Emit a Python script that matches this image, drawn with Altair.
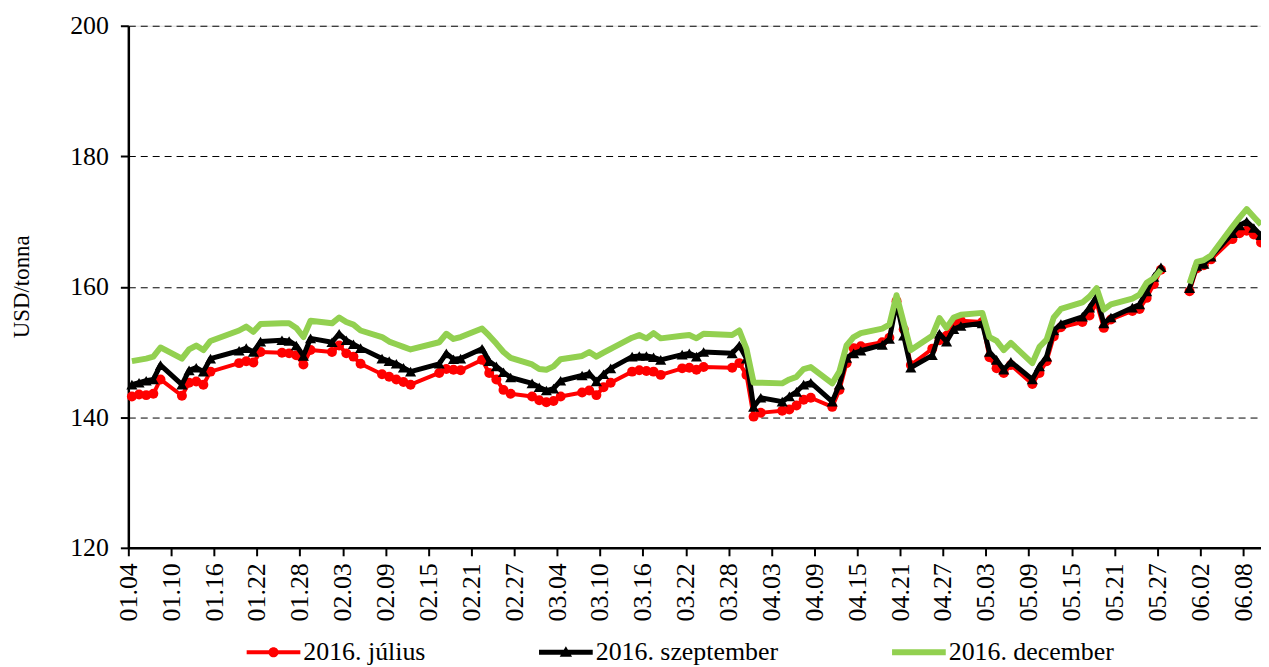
import altair as alt

# ---- data ----
dates_md = [
    "01.04","01.05","01.06","01.07","01.08","01.11","01.12","01.13","01.14","01.15","01.19","01.20","01.21","01.22","01.25","01.26","01.27","01.28","01.29",
    "02.01","02.02","02.03","02.04","02.05","02.08","02.09","02.10","02.11","02.12","02.16","02.17","02.18","02.19","02.22","02.23","02.24","02.25","02.26","02.29",
    "03.01","03.02","03.03","03.04","03.07","03.08","03.09","03.10","03.11","03.14","03.15","03.16","03.17","03.18","03.21","03.22","03.23","03.24","03.28","03.29","03.30","03.31",
    "04.01","04.04","04.05","04.06","04.07","04.08","04.11","04.12","04.13","04.14","04.15","04.18","04.19","04.20","04.21","04.22","04.25","04.26","04.27","04.28","04.29",
    "05.02","05.03","05.04","05.05","05.06","05.09","05.10","05.11","05.12","05.13","05.16","05.17","05.18","05.19","05.20","05.23","05.24","05.25","05.26","05.27","05.30","05.31",
    "06.01","06.02","06.03","06.06","06.07","06.08","06.09","06.10",
]

july = [
    143.2, 143.5, 143.4, 143.6, 145.8, 143.3, 145.3, 145.5, 145.0, 147.0, 148.3, 148.6, 148.4, 150.0, 149.9, 149.8, 149.5, 148.1, 150.3,
    150.0, 151.0, 149.8, 149.3, 148.2, 146.6, 146.2, 145.8, 145.4, 145.0, 146.8, 147.4, 147.3, 147.2, 148.8, 146.8, 145.8, 144.2, 143.6, 143.2,
    142.6, 142.3, 142.5, 143.2, 143.8, 144.1, 143.4, 144.6, 145.3, 147.0, 147.2, 147.1, 147.0, 146.5, 147.5, 147.6, 147.3, 147.7, 147.6, 148.3, 146.5, 140.1,
    140.7, 141.0, 141.2, 141.8, 142.7, 143.0, 141.6, 144.2, 148.3, 150.6, 150.9, 151.5, 152.2, 157.8, 153.5, 148.0, 150.5, 151.8, 152.5, 154.5, 154.8,
    154.6, 149.2, 147.5, 146.8, 148.0, 145.1, 146.8, 148.6, 152.4, 153.8, 154.6, 155.6, 157.5, 153.7, 155.0, 156.3, 156.6, 158.3, 160.4, 162.6, None, 159.3,
    162.8, 163.3, 164.2, 167.3, 168.2, 168.6, 168.0, 166.8,
]

september = [
    145.0, 145.3, 145.6, 145.8, 148.0, 145.0, 147.2, 147.6, 147.0, 149.0, 150.2, 150.6, 150.0, 151.6, 151.8, 151.7, 151.0, 149.4, 152.1,
    151.5, 152.8, 151.8, 151.2, 150.6, 149.0, 148.6, 148.2, 147.6, 147.0, 148.2, 149.8, 148.9, 149.0, 150.5, 148.6, 147.8, 146.9, 146.1, 145.2,
    144.6, 144.1, 144.4, 145.6, 146.4, 146.7, 145.5, 146.6, 147.5, 149.3, 149.4, 149.4, 149.2, 148.8, 149.6, 149.8, 149.3, 150.0, 149.8, 151.0, 149.0, 141.6,
    143.0, 142.4, 143.2, 143.9, 145.0, 145.3, 142.4, 145.0, 149.1, 149.8, 150.2, 151.1, 152.0, 157.6, 152.5, 147.6, 149.5, 152.8, 151.6, 153.5, 154.0,
    154.4, 150.0, 148.8, 147.3, 148.5, 145.8, 147.8, 149.3, 153.3, 154.3, 155.4, 156.8, 158.5, 154.4, 155.3, 156.8, 157.3, 159.3, 161.5, 163.0, None, 159.8,
    163.2, 163.5, 164.6, 168.2, 169.4, 170.0, 169.0, 167.9,
]

december = [
    148.6, 148.8, 149.0, 149.3, 150.7, 149.0, 150.4, 151.0, 150.3, 151.7, 153.3, 153.9, 153.1, 154.3, 154.4, 154.4, 153.7, 152.3, 154.8,
    154.4, 155.3, 154.6, 154.2, 153.3, 152.3, 151.6, 151.2, 150.8, 150.4, 151.5, 152.8, 152.0, 152.3, 153.6, 152.5, 151.3, 150.0, 149.1, 148.1,
    147.4, 147.3, 147.8, 148.9, 149.4, 150.0, 149.3, 149.9, 150.5, 152.2, 152.6, 152.1, 152.9, 152.1, 152.5, 152.6, 152.1, 152.8, 152.6, 153.3, 150.5, 145.3,
    145.3, 145.2, 145.8, 146.2, 147.4, 147.7, 145.2, 147.0, 151.0, 152.3, 152.9, 153.6, 154.2, 158.7, 154.5, 150.3, 152.5, 155.2, 153.7, 155.3, 155.7,
    156.0, 152.3, 151.7, 150.3, 151.4, 148.3, 150.8, 151.9, 155.3, 156.6, 157.6, 158.5, 159.8, 156.5, 157.3, 158.2, 158.8, 160.6, 161.3, 162.6, None, 160.5,
    163.8, 164.1, 164.8, 169.2, 170.6, 171.9, 170.7, 169.5,
]

series_names = ["2016. július", "2016. szeptember", "2016. december"]
series_colors = ["#FF0000", "#000000", "#92D050"]
tick_labels = ["01.04","01.10","01.16","01.22","01.28","02.03","02.09","02.15","02.21","02.27",
               "03.04","03.10","03.16","03.22","03.28","04.03","04.09","04.15","04.21","04.27",
               "05.03","05.09","05.15","05.21","05.27","06.02","06.08"]
y_ticks = [120, 140, 160, 180, 200]
year = 2016

# ---- build table ----
rows = []
for name, vals in zip(series_names, [july, september, december]):
    for md, v in zip(dates_md, vals):
        rows.append({"date": f"{year}-{md[:2]}-{md[3:]}", "series": name, "value": v})
data = alt.Data(values=rows)

def dt(md, hours=0):
    return alt.DateTime(year=year, month=int(md[:2]), date=int(md[3:]), hours=hours, utc=True)

FONT = "Liberation Serif"

x_enc = alt.X(
    "t:T",
    scale=alt.Scale(type="utc", domain=[dt("01.04"), dt("06.10", 12)]),
    axis=alt.Axis(
        values=[dt(t) for t in tick_labels], format="%m.%d", labelAngle=-90,
        labelFont=FONT, labelFontSize=26, labelColor="black", labelPadding=7,
        labelOverlap=False, labelFlush=False, labelBound=False,
        tickSize=8, tickWidth=2, tickColor="black",
        domainColor="black", domainWidth=2.5, grid=False, title=None,
    ),
)
y_enc = alt.Y(
    "value:Q",
    scale=alt.Scale(domain=[120, 200], nice=False, zero=False),
    axis=alt.Axis(
        values=y_ticks, labelFont=FONT, labelFontSize=26, labelColor="black", labelPadding=12,
        tickSize=8, tickWidth=2, tickColor="black",
        domainColor="black", domainWidth=2.5,
        grid=True, gridColor="black", gridWidth=1, gridDash=[7, 5],
        title="USD/tonna", titleFont=FONT, titleFontSize=23, titleFontWeight="normal",
        titleColor="black", titleAngle=-90, titleX=-107, titleY=262,
        titleAlign="center", titleBaseline="middle",
    ),
)

# each daily value sits in the middle of its day, as on the original date axis
base = alt.Chart(data).transform_calculate(t="toDate(datum.date) + 43200000")

def sel(name):
    return alt.datum.series == name

line_red = base.transform_filter(sel(series_names[0])).mark_line(
    color=series_colors[0], strokeWidth=4, strokeJoin="round", invalid="break-paths-show-domains"
).encode(x=x_enc, y=y_enc)
pts_red = base.transform_filter(sel(series_names[0])).transform_filter("isValid(datum.value)").mark_point(
    shape="circle", filled=True, size=100, color=series_colors[0], opacity=1
).encode(x=x_enc, y=y_enc)
line_black = base.transform_filter(sel(series_names[1])).mark_line(
    color=series_colors[1], strokeWidth=5, strokeJoin="round", invalid="break-paths-show-domains"
).encode(x=x_enc, y=y_enc)
pts_black = base.transform_filter(sel(series_names[1])).transform_filter("isValid(datum.value)").mark_point(
    shape="triangle-up", filled=True, size=125, color=series_colors[1], opacity=1
).encode(x=x_enc, y=y_enc)
line_green = base.transform_filter(sel(series_names[2])).mark_line(
    color=series_colors[2], strokeWidth=6, strokeJoin="round", invalid="break-paths-show-domains"
).encode(x=x_enc, y=y_enc)

# legend symbols: a line with the marker on it
legend_paths = [
    "M-1,-0.075H1V0.075H-1Z M-0.19,0A0.19,0.19 0 1,1 0.19,0A0.19,0.19 0 1,1 -0.19,0Z",
    "M-1,-0.095H1V0.095H-1Z M0,-0.22L0.23,0.17L-0.23,0.17Z",
    "M-1,-0.11H1V0.11H-1Z",
]
leg = alt.Legend(
    title=None, orient="none", legendX=119, legendY=603, direction="horizontal",
    labelFont=FONT, labelFontSize=26, labelColor="black", labelLimit=400, labelOffset=3,
    symbolSize=2916, symbolStrokeWidth=0, symbolOpacity=1, columnPadding=114, padding=0,
)
legend_layer = base.transform_filter("false").mark_point(filled=True, opacity=1).encode(
    x=x_enc, y=y_enc,
    color=alt.Color("series:N", scale=alt.Scale(domain=series_names, range=series_colors), legend=leg),
    shape=alt.Shape("series:N", scale=alt.Scale(domain=series_names, range=legend_paths), legend=leg),
)

chart = alt.layer(line_red, pts_red, line_black, pts_black, line_green, legend_layer).properties(
    width=1139, height=525,
    padding={"left": 121, "top": 16, "right": 0, "bottom": 118},
    autosize=alt.AutoSizeParams(type="none"),
).configure_view(stroke=None).configure(font=FONT)

chart.save("out.html", embed_options={"renderer": "svg", "actions": False})
